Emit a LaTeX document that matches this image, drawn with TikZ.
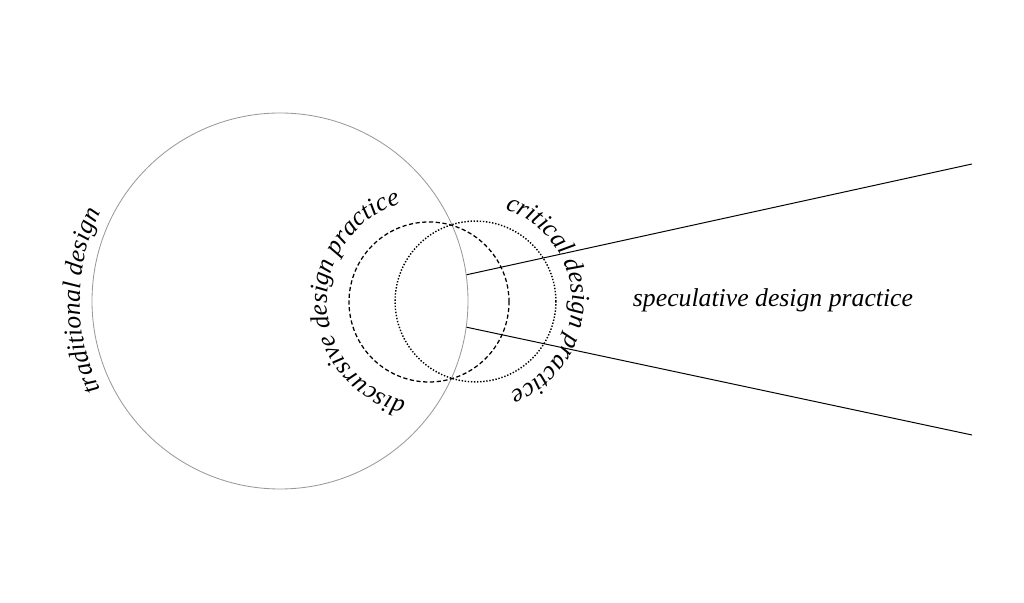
\documentclass[tikz,border=0pt]{standalone}
\usepackage{fontspec}
\setmainfont{Liberation Serif}
\usetikzlibrary{decorations.text}

\newcommand{\lbl}{\fontsize{18.3}{22}\selectfont\itshape}

\begin{document}
\begin{tikzpicture}[field/.style={draw,circle,inner sep=0pt},
	ray/.style={line width=0.7pt},
	arclabel/.style={decorate,decoration={text along path,text align=center}}]
\useasboundingbox (0,0) rectangle (25.6,15.075);
\node[field,draw=black!40,line width=0.6pt,minimum size=9.4cm](trad) at (7,7.55){};
	\node[field,dash pattern=on 3pt off 1.8pt,line width=0.9pt,minimum size=4cm](disc) at (10.725,7.525){};
	\node[field,dash pattern=on 1pt off 1.2pt,line width=1pt,minimum size=4.02cm](crit) at (11.8875,7.5375){};
\coordinate (top) at (24.3,10.975);
\coordinate (bot) at (24.3,4.2);
\node[anchor=base,font=\lbl](spec) at (19.325,7.4){speculative design practice};
	\draw[ray] (trad.8.6) -- (top);
	\draw[ray] (trad.-8.6) -- (bot);
% labels round the circles
\path[arclabel,decoration={text={|\lbl|traditional design}}]
	([shift={(240:5)}]trad.center) arc[start angle=240,end angle=120,radius=5];
\path[arclabel,decoration={text={|\lbl|discursive design practice}}]
	([shift={(271.5:2.55)}]disc.center) arc[start angle=271.5,end angle=91.5,radius=2.55];
\path[arclabel,decoration={text={|\lbl|critical design practice}}]
	([shift={(91.6:2.42)}]crit.center) arc[start angle=91.6,end angle=-88.4,radius=2.42];
\end{tikzpicture}
\end{document}
